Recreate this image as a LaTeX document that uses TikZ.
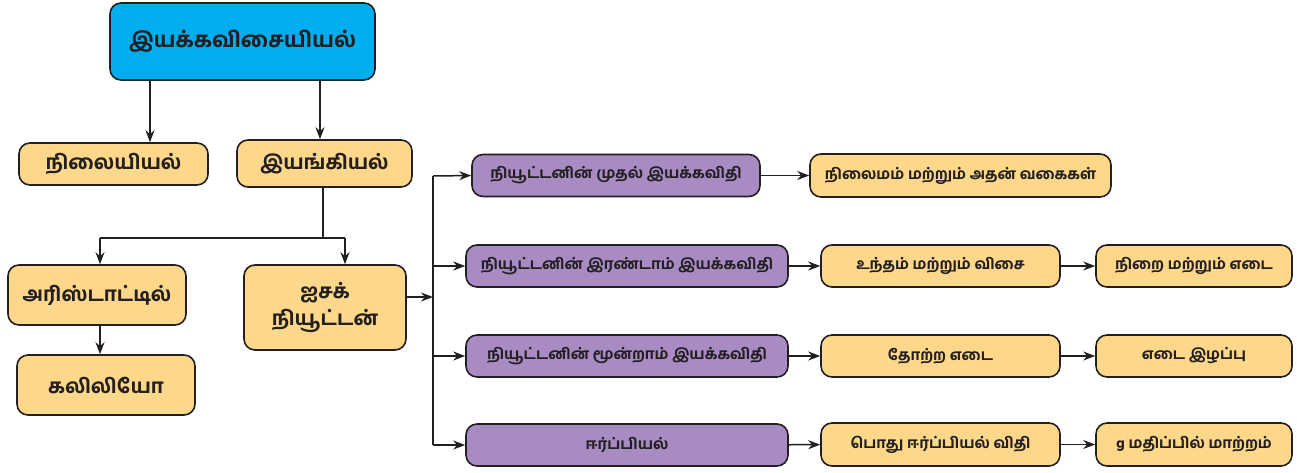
\documentclass[tikz,border=0pt]{standalone}
\usepackage{fontspec}
\newfontfamily\tamil[Script=Tamil]{Hind Madurai Bold}
\usetikzlibrary{arrows.meta}
\definecolor{topblue}{HTML}{00AEEF}
\definecolor{boxorange}{HTML}{FDD88A}
\definecolor{boxpurple}{HTML}{A98BC4}
\definecolor{ink}{HTML}{231F20}
\tikzset{
  base/.style={draw=ink, line width=1.6pt, rounded corners=11pt, inner sep=0pt, align=center, text=ink, font=\tamil},
  topbox/.style={base, fill=topblue, font=\tamil\fontsize{21.5}{26}\selectfont},
  lvbox/.style={base, fill=boxorange, font=\tamil\fontsize{20}{27}\selectfont},
  pbox/.style={base, fill=boxpurple, font=\tamil\fontsize{15}{18}\selectfont},
  obox/.style={base, fill=boxorange, font=\tamil\fontsize{15}{18}\selectfont},
  arr/.style={draw=ink, line width=1.5pt, -{Stealth[length=12pt,width=9pt]}},
  ln/.style={draw=ink, line width=1.5pt},
}
\begin{document}
\begin{tikzpicture}[x=1pt,y=-1pt]
\useasboundingbox (0,0) rectangle (1297,472);
\node[topbox, minimum width=265pt, minimum height=77pt] (top) at (242.5,41.5) {இயக்கவிசையியல்};
\node[lvbox, minimum width=189pt, minimum height=42pt] (stat) at (113.5,164) {நிலையியல்};
\node[lvbox, minimum width=175pt, minimum height=47pt] (dyn) at (324.5,163.5) {இயங்கியல்};
\node[lvbox, minimum width=178pt, minimum height=60pt] (ari) at (97,295) {அரிஸ்டாட்டில்};
\node[lvbox, minimum width=178pt, minimum height=60pt] (gal) at (106,385) {கலிலியோ};
\node[lvbox, minimum width=162pt, minimum height=85pt] (new) at (325,307.5) {ஐசக்\\நியூட்டன்};
\node[pbox, minimum width=288pt, minimum height=42pt] (p1) at (616,175.5) {நியூட்டனின் முதல் இயக்கவிதி};
\node[pbox, minimum width=322pt, minimum height=42pt] (p2) at (627,266) {நியூட்டனின் இரண்டாம் இயக்கவிதி};
\node[pbox, minimum width=322pt, minimum height=42pt] (p3) at (627,356) {நியூட்டனின் மூன்றாம் இயக்கவிதி};
\node[pbox, minimum width=322pt, minimum height=42pt] (p4) at (627,445) {ஈர்ப்பியல்};
\node[obox, minimum width=301pt, minimum height=43pt] (o1) at (960.5,175.5) {நிலைமம் மற்றும் அதன் வகைகள்};
\node[obox, minimum width=239pt, minimum height=42pt] (o2) at (940.5,266) {உந்தம் மற்றும் விசை};
\node[obox, minimum width=196pt, minimum height=42pt] (o3) at (1194,266) {நிறை மற்றும் எடை};
\node[obox, minimum width=239pt, minimum height=42pt] (o4) at (940.5,356) {தோற்ற எடை};
\node[obox, minimum width=196pt, minimum height=42pt] (o5) at (1194,356) {எடை இழப்பு};
\node[obox, minimum width=239pt, minimum height=43pt] (o6) at (940.5,444.5) {பொது ஈர்ப்பியல் விதி};
\node[obox, minimum width=196pt, minimum height=43pt] (o7) at (1194,444.5) {g மதிப்பில் மாற்றம்};
% connectors
\coordinate (c1) at (150,0);
\coordinate (c2) at (320,0);
\draw[arr] (top.south -| c1) -- (stat.north -| c1);
\draw[arr] (top.south -| c2) -- (dyn.north -| c2);
\coordinate (j1) at (323,238);
\coordinate (ja) at (100,238);
\coordinate (jn) at (345,238);
\draw[ln] (dyn.south -| j1) -- (j1);
\draw[ln] (ja) -- (jn);
\draw[arr] (ja) -- (ari.north -| ja);
\draw[arr] (jn) -- (new.north -| jn);
\draw[arr] (ari.south -| ja) -- (gal.north -| ja);
\coordinate (bt) at (433,176);
\coordinate (bb) at (433,445);
\coordinate (bm) at (433,297);
\draw[ln] (bt) -- (bb);
\draw[arr] (new.east |- bm) -- (bm);
\draw[arr] (bt) -- (p1.west);
\draw[arr] (bt |- p2.west) -- (p2.west);
\draw[arr] (bt |- p3.west) -- (p3.west);
\draw[arr] (bb) -- (p4.west);
\draw[arr] (p1) -- (o1);
\draw[arr] (p2) -- (o2);
\draw[arr] (o2) -- (o3);
\draw[arr] (p3) -- (o4);
\draw[arr] (o4) -- (o5);
\draw[arr] (p4) -- (o6);
\draw[arr] (o6) -- (o7);
\end{tikzpicture}
\end{document}
